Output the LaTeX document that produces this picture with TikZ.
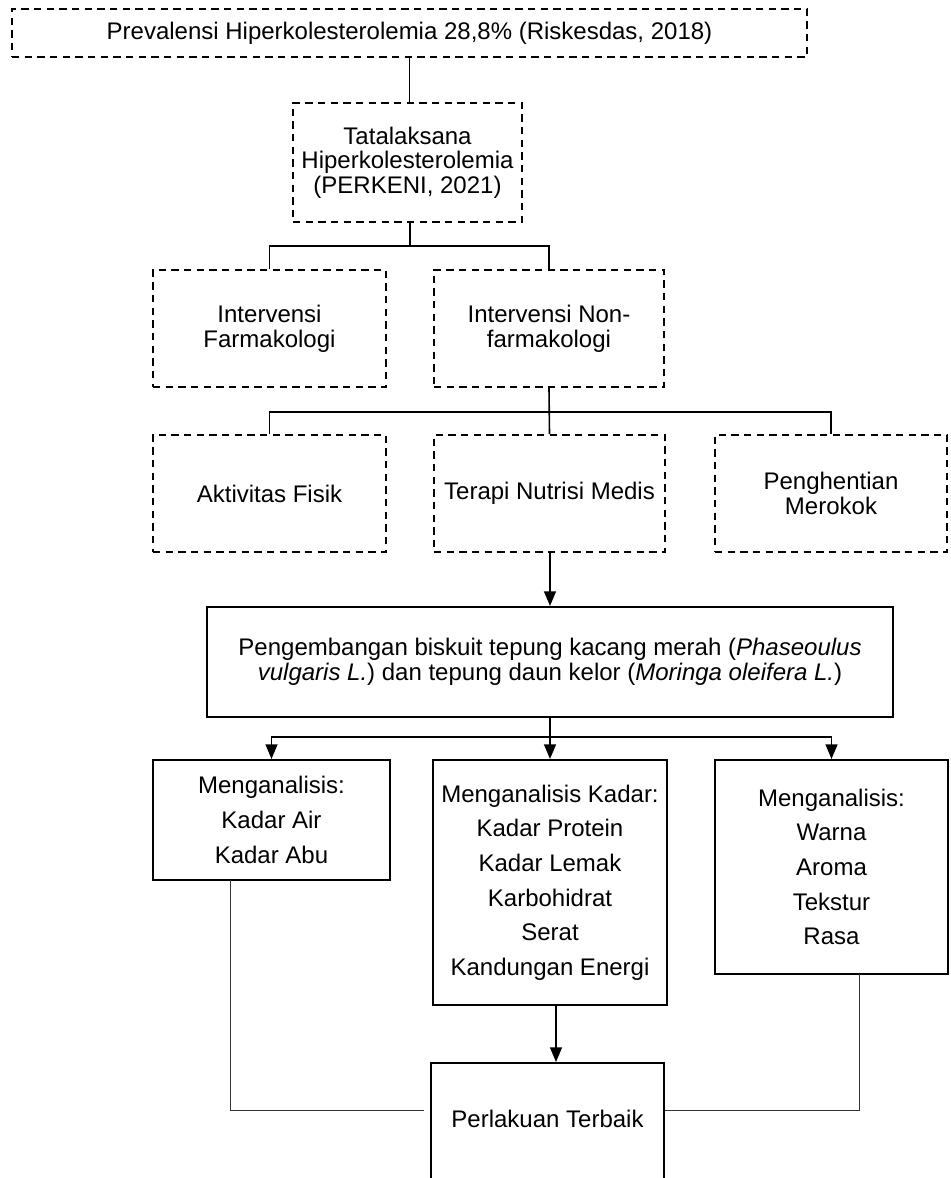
\documentclass[tikz,border=0pt]{standalone}
\usepackage{fontspec}
\setmainfont{Liberation Sans}
\usetikzlibrary{arrows.meta}
\newdimen\px
\px=0.75pt

\begin{document}
\begin{tikzpicture}[x=0.75pt, y=-0.75pt,
  dashbox/.style={rectangle, draw, line width=1.5pt, dash pattern=on 5.5pt off 4pt,
    align=center, font=\fontsize{18}{18.5}\selectfont, minimum height=117\px, inner sep=0pt},
  solidbox/.style={rectangle, draw, line width=1.6pt, align=center,
    font=\fontsize{18}{18.8}\selectfont, inner sep=0pt},
  listbox/.style={solidbox, font=\fontsize{18}{26}\selectfont},
  link/.style={line width=1.2pt},
  arrowlink/.style={line width=1.2pt, -{Triangle[length=11pt, width=9pt]}},
  thinlink/.style={line width=0.75pt, black!80}]
\useasboundingbox (0,0) rectangle (950,1178);

\node[dashbox, minimum width=795\px, minimum height=48\px] (prev) at (409.5,33) {Prevalensi Hiperkolesterolemia 28,8\% (Riskesdas, 2018)};
\node[dashbox, minimum width=229\px, minimum height=119\px] (tata) at (407.5,162.5) {Tatalaksana\\Hiperkolesterolemia\\(PERKENI, 2021)};

\node[dashbox, minimum width=233\px] (farm) at (269.5,328.5) {Intervensi\\Farmakologi};
\node[dashbox, minimum width=230\px] (nonfarm) at (549,328.5) {Intervensi Non-\\farmakologi};

\node[dashbox, minimum width=233\px] (fisik) at (269.5,493.5) {Aktivitas Fisik};
\node[dashbox, minimum width=231\px] (tnm) at (549.5,493.5) {Terapi Nutrisi Medis};
\node[dashbox, minimum width=232\px] (rokok) at (831,493.5) {Penghentian\\Merokok};

\node[solidbox, minimum width=686\px, minimum height=110\px] (biskuit) at (550,662) {Pengembangan biskuit tepung kacang merah (\textit{Phaseoulus}\\\textit{vulgaris L.}) dan tepung daun kelor (\textit{Moringa oleifera L.})};

\node[listbox, minimum width=237\px, minimum height=120\px] (uji1) at (271.5,820) {Menganalisis:\\Kadar Air\\Kadar Abu};
\node[listbox, minimum width=234\px, minimum height=245\px] (uji2) at (550,882.5) {Menganalisis Kadar:\\Kadar Protein\\Kadar Lemak\\Karbohidrat\\Serat\\Kandungan Energi};
\node[listbox, minimum width=233\px, minimum height=214\px] (uji3) at (831.5,867) {Menganalisis:\\Warna\\Aroma\\Tekstur\\Rasa};

\node[solidbox, anchor=north, minimum width=233\px, text height=64\px, text depth=90\px] (terbaik) at (547.5,1062) {Perlakuan Terbaik};

\coordinate (j1) at (410,246);
\coordinate (j2) at (549,412);
\coordinate (j3) at (550,737);
\coordinate (l1) at (230,880);
\coordinate (l2) at (424,1110);
\coordinate (r1) at (859,974);
\coordinate (a1) at (556,1005);

\draw[link] (prev.south) -- (prev.south |- tata.north);
\draw[link] (tata.south -| j1) -- (j1);
\draw[link] (farm.north) |- (j1) -| (nonfarm.north);

\draw[link] (nonfarm.south) -- (tnm.north);
\draw[link] (fisik.north) |- (j2) -| (rokok.north);

\draw[arrowlink] (tnm.south -| biskuit.north) -- (biskuit.north);

\draw[link] (biskuit.south) -- (j3);
\draw[arrowlink] (j3) -| (uji1.north);
\draw[arrowlink] (j3) -| (uji3.north);
\draw[arrowlink] (j3) -- (uji2.north);

\draw[arrowlink] (a1) -- (a1 |- terbaik.north);
\draw[thinlink] (l1) |- (l2);
\draw[thinlink] (r1) |- (terbaik.east |- l2);

\end{tikzpicture}
\end{document}
